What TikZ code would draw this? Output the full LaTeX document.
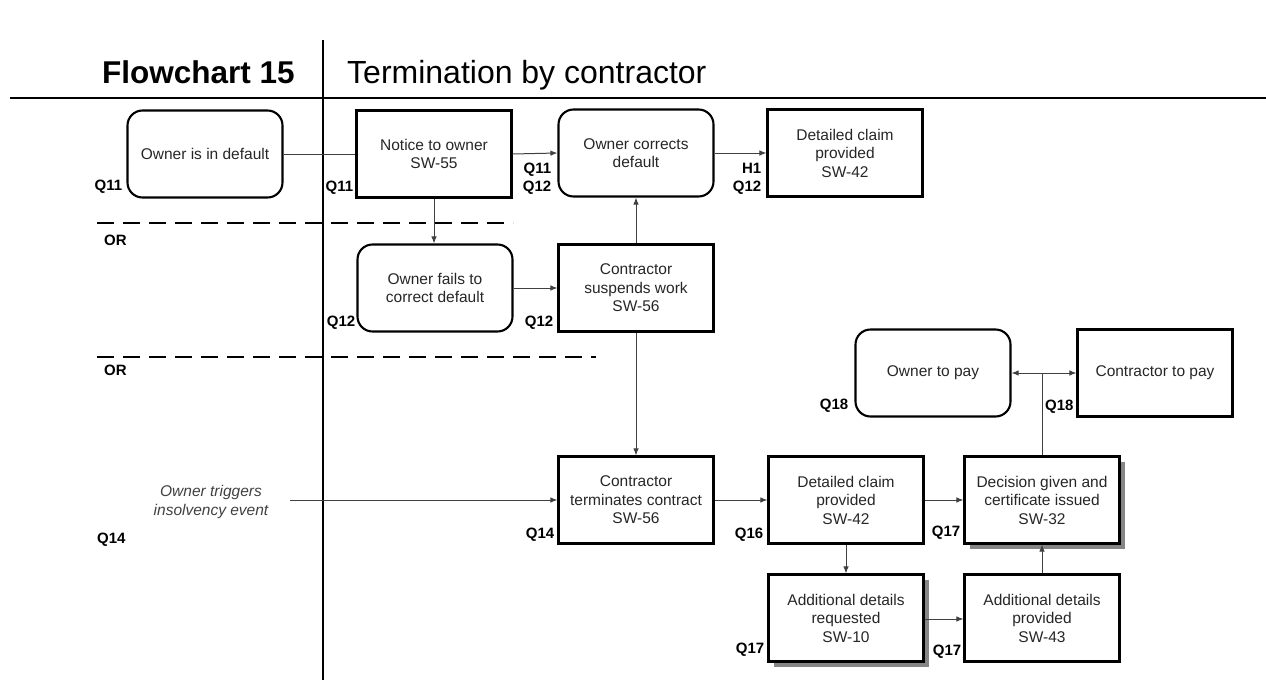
\documentclass[tikz,border=0pt]{standalone}
\usepackage{fontspec}
\setmainfont{Liberation Sans}
\usetikzlibrary{arrows.meta,shadows}
\begin{document}
\begin{tikzpicture}[x=1pt,y=-1pt,
  boxtext/.style={font=\fontsize{15.5}{18.5}\selectfont, text=black!85, align=center},
  sqbox/.style={boxtext, draw=black, line width=2.1pt, minimum width=155pt, minimum height=87pt, inner sep=2pt},
  rbox/.style={sqbox, rounded corners=15pt},
  shbox/.style={sqbox, fill=white, drop shadow={shadow xshift=5pt, shadow yshift=-5pt, fill=black!60, opacity=0.8}},
  qlab/.style={font=\bfseries\fontsize{15}{18}\selectfont, inner sep=0pt, align=right},
  conn/.style={draw=black!75, line width=1pt},
  arr/.style={conn, -{Latex[length=7pt,width=5.5pt]}},
  rule/.style={line width=2.6pt},
  dline/.style={line width=2pt, dash pattern=on 17pt off 9pt}
]
\useasboundingbox (0,0) rectangle (1266,680);
% frame lines
\coordinate (vtop) at (323,40);
\coordinate (vbot) at (323,680);
\coordinate (hl) at (10,98);
\coordinate (hr) at (1266,98);
\draw[rule] (vtop) -- (vbot);
\draw[rule] (hl) -- (hr);
% titles
\node[font=\bfseries\fontsize{31.5}{34}\selectfont, anchor=base west, inner sep=0pt] (t1) at (102,83) {Flowchart 15};
\node[font=\fontsize{32}{34}\selectfont, anchor=base west, inner sep=0pt] (t2) at (347,83) {Termination by contractor};
% dashed OR lines
\coordinate (d1a) at (97,223);
\coordinate (d1b) at (513,223);
\coordinate (d2a) at (97,357);
\coordinate (d2b) at (596,357);
\draw[dline] (d1a) -- (d1b);
\draw[dline] (d2a) -- (d2b);
\node[qlab, anchor=west] (or1) at (104,240) {OR};
\node[qlab, anchor=west] (or2) at (104,370) {OR};
% boxes
\node[rbox] (A) at (205,154) {Owner is in default};
\node[sqbox] (B) at (434,154) {Notice to owner\\SW-55};
\node[rbox] (C) at (636,153) {Owner corrects\\default};
\node[sqbox] (D) at (845,153) {Detailed claim\\provided\\SW-42};
\node[rbox] (E) at (435,288) {Owner fails to\\correct default};
\node[sqbox] (F) at (636,288) {Contractor\\suspends work\\SW-56};
\node[sqbox] (G) at (636,500) {Contractor\\terminates contract\\SW-56};
\node[sqbox] (H) at (846,500) {Detailed claim\\provided\\SW-42};
\node[shbox] (I) at (1042,500) {Decision given and\\certificate issued\\SW-32};
\node[shbox] (J) at (846,618) {Additional details\\requested\\SW-10};
\node[sqbox] (K) at (1042,618) {Additional details\\provided\\SW-43};
\node[rbox] (L) at (933,373) {Owner to pay};
\node[sqbox] (M) at (1155,373) {Contractor to pay};
% insolvency text
\node[boxtext, font=\itshape\fontsize{15.5}{18.5}\selectfont, text=black!75] (ins) at (211,502) {Owner triggers\\insolvency event};
\coordinate (insr) at (290,500);
% Q labels
\node[qlab, anchor=south east] (qA) at ([xshift=-4pt,yshift=5pt]A.south west) {Q11};
\node[qlab, anchor=south east] (qB) at ([xshift=-2pt,yshift=4pt]B.south west) {Q11};
\node[qlab, anchor=south east] (qC) at ([xshift=-6pt,yshift=3pt]C.south west) {Q11\\Q12};
\node[qlab, anchor=south east] (qD) at ([xshift=-5pt,yshift=3pt]D.south west) {H1\\Q12};
\node[qlab, anchor=south east] (qE) at ([xshift=-1pt,yshift=3pt]E.south west) {Q12};
\node[qlab, anchor=south east] (qF) at ([xshift=-4pt,yshift=3pt]F.south west) {Q12};
\node[qlab, anchor=south east] (qG) at ([xshift=-3pt,yshift=3pt]G.south west) {Q14};
\node[qlab, anchor=west] (q14) at (97,540) {Q14};
\node[qlab, anchor=south east] (qH) at ([xshift=-4pt,yshift=3pt]H.south west) {Q16};
\node[qlab, anchor=south east] (qI) at ([xshift=-3pt,yshift=5pt]I.south west) {Q17};
\node[qlab, anchor=south east] (qJ) at ([xshift=-3pt,yshift=6pt]J.south west) {Q17};
\node[qlab, anchor=south east] (qK) at ([xshift=-2pt,yshift=4pt]K.south west) {Q17};
\node[qlab, anchor=south east] (qL) at ([xshift=-6pt,yshift=5pt]L.south west) {Q18};
\node[qlab, anchor=south west] (qM) at (1045,414) {Q18};
% connectors
\draw[conn] (A.east) -- (B.west);
\draw[arr] (B.east) -- (C.west);
\draw[arr] (C.east) -- (D.west);
\draw[arr] (B.south) -- (B.south |- E.north);
\draw[arr] (E.east) -- (F.west);
\draw[arr] (F.north) -- (C.south);
\draw[arr] (F.south) -- (G.north);
\draw[arr] (insr) -- (G.west);
\draw[arr] (G.east) -- (H.west);
\draw[arr] (H.east) -- (I.west);
\draw[arr] (H.south) -- (J.north);
\draw[arr] ([yshift=-1pt]J.east) -- ([yshift=-1pt]K.west);
\draw[arr] (K.north) -- (I.north |- I.south);
\coordinate (jn) at (I.north |- L.east);
\draw[conn] (I.north) -- (jn);
\draw[arr] (jn) -- (L.east);
\draw[arr] (jn) -- (M.west);
\end{tikzpicture}
\end{document}
